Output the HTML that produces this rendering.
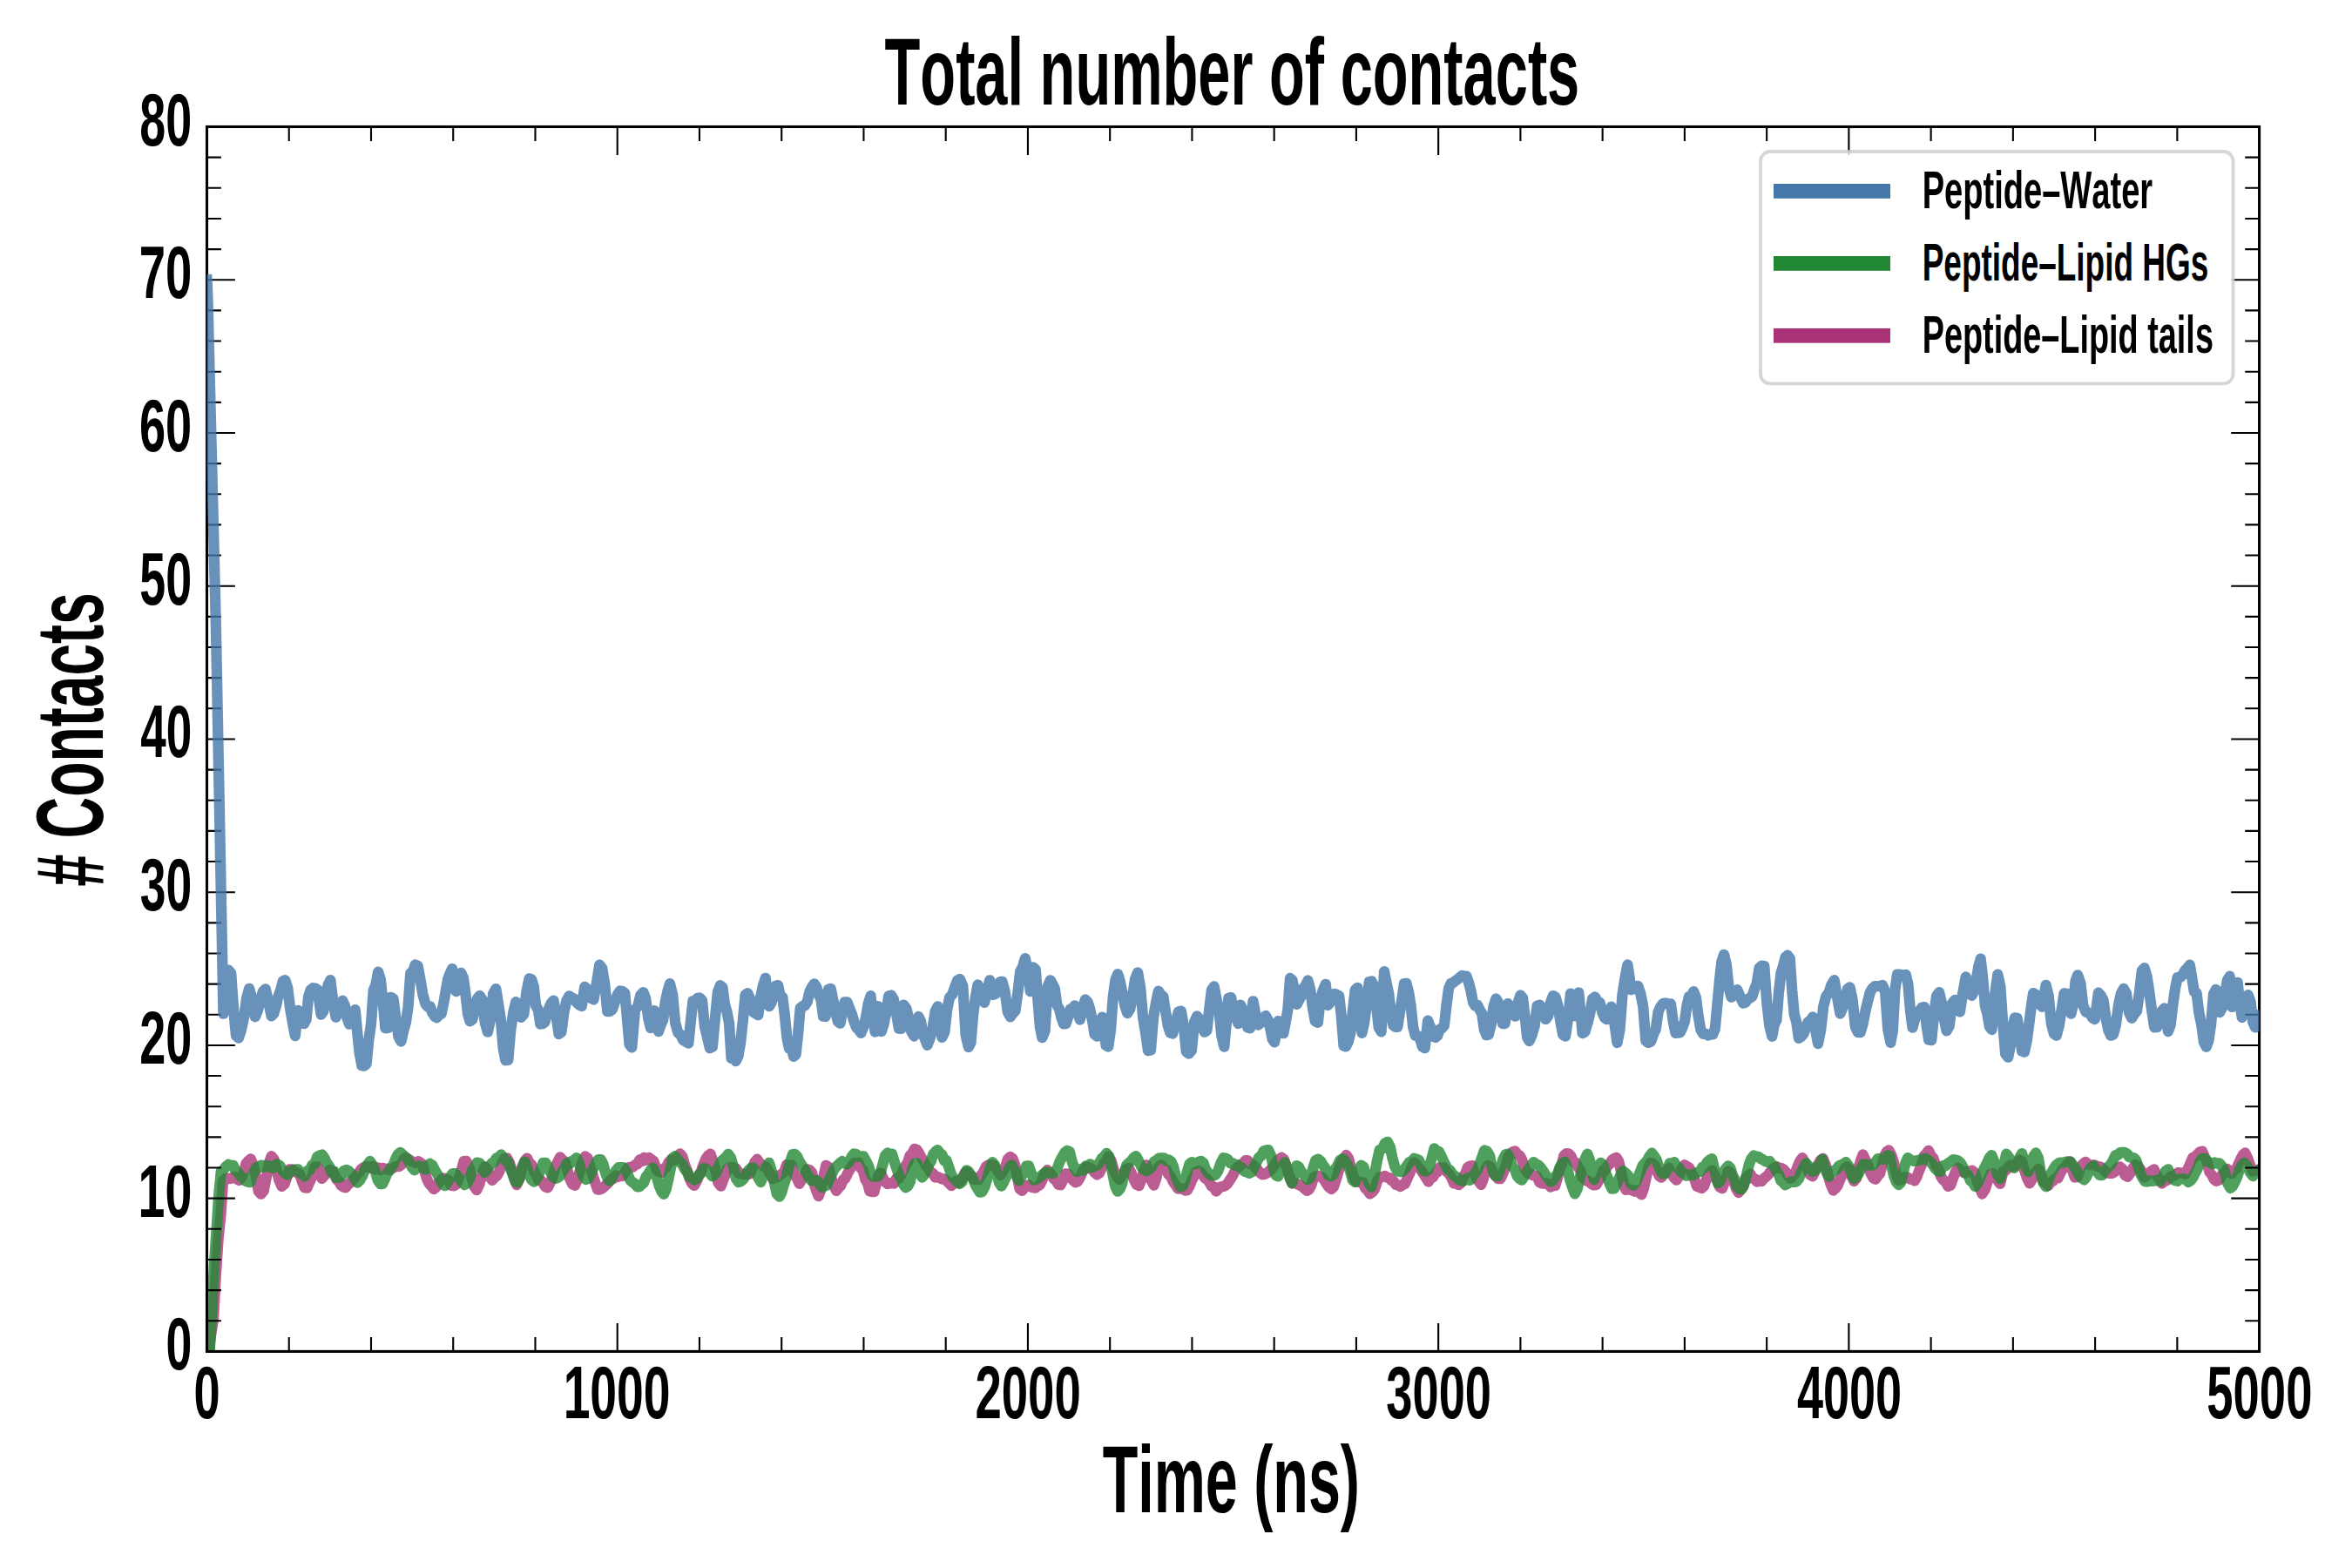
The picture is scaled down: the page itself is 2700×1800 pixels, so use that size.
<!DOCTYPE html><html><head><meta charset="utf-8"><style>html,body{margin:0;padding:0;background:#fff;overflow:hidden}svg{display:block}</style></head><body>
<svg width="2700" height="1800" viewBox="0 0 2700 1800" font-family="Liberation Sans, sans-serif" font-weight="bold" style="font-kerning:none">
<rect width="2700" height="1800" fill="#fff"/>
<defs><clipPath id="ax"><rect x="237.5" y="145.5" width="2356.1" height="1405.9"/></clipPath></defs>
<g clip-path="url(#ax)" fill="none" stroke-width="12.3" stroke-linejoin="round" stroke-linecap="square">
<path d="M239.5 1552.4L242.3 1531.6L245.1 1513.7L247.8 1463.8L250.6 1422.4L253.4 1395.2L256.1 1355.2L258.9 1352.9L261.5 1353.0L264.0 1353.1L266.6 1352.0L269.1 1351.0L271.7 1353.3L274.2 1354.9L276.9 1352.4L279.7 1346.2L282.4 1335.9L285.1 1332.8L287.8 1330.5L290.8 1337.5L293.8 1350.2L296.8 1367.6L299.7 1370.7L302.7 1367.0L305.7 1351.9L308.7 1335.5L311.6 1327.2L314.6 1331.1L317.6 1343.8L320.6 1355.5L323.5 1361.9L326.5 1359.4L329.5 1350.9L332.5 1342.4L335.4 1342.5L338.3 1345.3L341.1 1346.3L343.9 1347.6L346.8 1356.1L349.6 1363.4L352.4 1363.6L355.4 1357.0L358.4 1350.3L361.4 1339.7L364.4 1339.3L366.9 1344.9L369.5 1352.9L372.4 1349.5L375.4 1346.2L378.4 1343.0L381.4 1343.7L383.9 1348.9L386.5 1354.1L389.0 1356.0L391.6 1360.8L394.1 1362.6L396.7 1363.3L399.2 1360.2L401.8 1357.7L404.3 1355.2L406.9 1352.3L409.4 1349.0L412.0 1346.2L414.5 1342.4L417.1 1340.4L419.9 1339.2L422.7 1339.6L425.6 1340.8L428.4 1339.0L431.2 1342.1L434.1 1340.5L436.7 1342.9L439.4 1340.9L442.0 1341.8L444.7 1341.9L447.3 1343.1L450.0 1341.4L452.6 1340.0L455.2 1339.0L457.9 1339.1L460.4 1337.4L463.0 1331.5L465.5 1328.9L468.4 1330.5L471.3 1332.4L474.2 1333.8L477.1 1334.9L480.0 1333.2L482.6 1334.7L485.1 1336.8L487.7 1345.8L490.2 1353.8L492.8 1358.9L495.3 1361.6L497.9 1365.0L500.6 1362.7L503.4 1357.7L506.1 1355.0L508.9 1352.5L511.9 1353.4L514.9 1354.7L517.8 1360.7L520.8 1361.3L523.7 1359.7L526.6 1352.9L529.5 1344.3L532.4 1333.2L535.3 1332.8L538.2 1339.0L541.2 1351.2L544.2 1361.9L547.2 1366.0L550.3 1359.6L553.4 1348.3L556.5 1339.2L559.4 1342.5L562.2 1350.8L565.0 1354.9L567.9 1351.8L570.7 1349.5L573.5 1344.1L576.4 1335.2L579.2 1329.9L582.0 1329.4L584.8 1334.6L587.6 1343.6L590.3 1352.4L593.1 1360.1L596.2 1353.7L599.3 1339.6L602.5 1332.6L605.1 1329.6L607.7 1335.2L610.4 1337.0L613.0 1345.0L615.6 1349.1L618.3 1355.1L620.9 1355.0L623.5 1358.2L626.2 1362.5L628.8 1363.4L631.6 1357.7L634.5 1351.2L637.3 1340.4L640.1 1333.8L643.0 1328.4L645.8 1331.7L648.6 1333.5L651.5 1343.7L654.3 1353.6L657.1 1359.4L660.0 1360.8L662.9 1354.0L665.9 1343.2L668.9 1332.7L671.9 1327.5L674.7 1329.7L677.5 1339.5L680.4 1348.7L683.2 1357.5L686.0 1365.5L688.9 1365.5L691.4 1364.1L694.0 1361.8L696.5 1359.6L699.1 1357.0L701.6 1353.7L704.2 1353.1L706.7 1349.5L709.3 1351.0L711.8 1349.8L714.8 1350.0L717.8 1345.1L720.8 1340.5L723.7 1339.8L726.4 1339.7L729.0 1337.3L731.7 1336.4L734.3 1331.4L737.0 1333.1L739.6 1328.8L742.3 1331.8L744.9 1329.0L747.6 1331.0L750.5 1333.0L753.5 1342.5L756.5 1345.0L759.5 1346.0L762.1 1341.5L764.8 1340.1L767.4 1334.6L770.1 1331.5L772.7 1332.1L775.4 1331.2L778.1 1327.6L780.7 1324.4L783.4 1327.6L786.1 1337.2L788.8 1343.6L791.5 1352.6L794.2 1358.5L796.9 1360.9L799.5 1356.4L802.2 1350.1L804.9 1344.4L807.6 1336.7L810.2 1330.7L812.9 1326.5L815.6 1324.7L818.6 1333.4L821.5 1344.0L824.5 1358.0L827.5 1361.7L830.0 1355.2L832.6 1348.9L835.1 1341.3L837.7 1340.2L840.2 1339.8L842.8 1340.8L845.3 1341.8L847.9 1346.8L850.4 1347.1L853.0 1347.9L855.5 1348.2L858.1 1348.2L860.9 1347.5L863.6 1340.9L866.4 1334.2L869.2 1330.7L871.7 1334.8L874.3 1336.8L876.8 1339.1L879.4 1339.3L881.9 1344.0L884.5 1348.1L887.0 1353.3L889.6 1351.2L892.1 1351.4L894.8 1349.2L897.6 1347.5L900.3 1345.3L903.0 1337.1L905.7 1338.3L908.7 1337.4L911.7 1348.0L914.6 1352.2L917.6 1358.8L920.6 1353.8L923.6 1350.0L926.5 1342.2L929.5 1343.3L932.1 1346.0L934.6 1359.1L937.2 1367.1L939.7 1373.2L942.6 1364.9L945.4 1350.6L948.2 1337.8L951.2 1339.9L954.2 1352.1L957.2 1360.8L960.1 1366.9L962.7 1363.7L965.2 1360.9L967.8 1354.5L970.3 1352.9L972.9 1347.3L975.4 1342.9L978.0 1338.5L980.5 1335.3L983.1 1335.9L985.6 1335.0L988.2 1341.2L990.7 1343.2L993.3 1353.7L995.9 1358.0L998.4 1367.3L1001.0 1368.0L1003.5 1368.0L1006.1 1357.9L1008.6 1349.4L1011.2 1346.4L1013.7 1352.5L1016.3 1357.0L1018.8 1359.0L1023.6 1357.8L1026.2 1358.5L1028.9 1353.1L1031.5 1352.9L1034.1 1349.5L1036.7 1343.3L1039.4 1338.7L1042.0 1334.4L1044.6 1326.4L1047.3 1323.9L1049.9 1319.0L1052.5 1319.8L1055.2 1324.2L1057.8 1329.0L1060.5 1333.4L1063.1 1338.7L1065.7 1341.0L1068.4 1345.7L1071.0 1347.0L1073.7 1351.5L1076.3 1350.9L1079.0 1352.3L1081.6 1353.7L1084.3 1353.3L1086.9 1355.7L1089.6 1358.3L1092.2 1361.2L1094.8 1358.6L1097.5 1355.8L1100.1 1357.8L1102.7 1356.1L1105.2 1351.1L1107.8 1346.2L1110.3 1345.3L1112.9 1349.3L1115.4 1349.7L1118.0 1354.0L1120.5 1353.7L1123.4 1354.3L1126.2 1349.1L1129.0 1345.3L1131.9 1339.1L1134.7 1337.3L1137.5 1337.4L1140.3 1337.5L1143.1 1340.5L1145.8 1344.9L1148.6 1349.1L1151.4 1344.3L1154.1 1339.5L1156.9 1330.6L1159.7 1328.1L1162.4 1329.9L1165.1 1337.0L1167.8 1350.8L1170.5 1364.6L1173.3 1366.8L1175.8 1363.7L1178.4 1360.9L1180.9 1360.3L1183.5 1362.6L1186.0 1363.2L1188.6 1363.7L1191.1 1361.5L1193.7 1360.2L1196.5 1354.7L1199.3 1347.0L1202.2 1343.2L1204.7 1345.6L1207.3 1348.5L1209.8 1353.4L1212.4 1355.3L1214.9 1359.8L1217.5 1360.3L1220.5 1354.2L1223.4 1347.4L1226.2 1347.7L1229.0 1351.5L1231.7 1354.6L1234.5 1357.3L1237.2 1356.2L1239.9 1351.6L1242.7 1344.9L1245.4 1341.0L1248.1 1339.5L1250.9 1340.6L1253.8 1342.3L1256.6 1346.1L1259.3 1348.4L1262.0 1346.6L1264.7 1340.7L1267.4 1335.1L1270.1 1332.5L1272.8 1327.4L1275.7 1332.9L1278.7 1343.5L1281.7 1350.0L1284.7 1354.2L1287.4 1349.9L1290.2 1345.7L1293.0 1342.1L1295.7 1341.1L1298.7 1346.5L1301.7 1354.0L1304.6 1359.9L1307.6 1361.2L1310.5 1353.6L1313.3 1343.8L1316.1 1337.3L1319.0 1344.1L1321.8 1355.3L1324.6 1360.5L1327.5 1352.0L1330.3 1339.6L1333.1 1337.3L1335.9 1341.2L1338.6 1342.5L1341.3 1348.1L1344.0 1350.5L1346.7 1356.5L1349.5 1360.3L1352.2 1364.6L1354.9 1364.6L1357.6 1364.3L1360.3 1366.5L1362.9 1366.4L1365.4 1361.8L1368.0 1355.5L1370.5 1350.5L1373.1 1345.0L1375.6 1344.2L1378.2 1345.4L1380.7 1348.6L1383.3 1352.5L1385.9 1353.6L1388.4 1357.4L1391.0 1361.9L1393.5 1362.3L1396.1 1367.5L1398.9 1364.5L1401.7 1362.3L1404.3 1362.0L1406.8 1360.9L1409.4 1358.3L1411.9 1354.5L1414.5 1350.6L1417.0 1345.7L1419.6 1340.5L1422.1 1339.7L1424.7 1336.8L1427.2 1335.4L1429.8 1332.1L1432.3 1332.2L1435.1 1336.2L1438.0 1336.9L1440.8 1340.1L1443.6 1342.5L1446.5 1346.5L1449.3 1348.4L1452.1 1347.7L1454.8 1346.3L1457.5 1344.0L1460.3 1341.3L1463.0 1337.5L1465.8 1332.8L1468.5 1330.6L1471.2 1328.8L1474.0 1330.9L1477.1 1340.0L1480.2 1350.3L1483.3 1358.5L1486.2 1357.6L1489.0 1359.3L1491.8 1360.2L1494.7 1362.0L1497.5 1364.5L1500.3 1366.8L1502.9 1365.3L1505.4 1360.4L1508.0 1352.0L1510.5 1350.3L1513.1 1349.6L1515.6 1350.5L1518.2 1352.1L1520.7 1355.4L1523.3 1359.7L1525.8 1363.2L1528.4 1364.9L1531.0 1362.3L1533.8 1354.0L1536.7 1344.4L1539.6 1333.7L1542.5 1331.2L1545.4 1326.0L1548.2 1330.0L1550.9 1340.3L1553.7 1350.7L1556.5 1356.2L1559.1 1356.8L1561.8 1357.5L1564.5 1357.5L1567.2 1364.0L1569.8 1366.4L1572.5 1370.4L1575.2 1368.8L1578.1 1365.0L1581.1 1355.6L1584.1 1351.1L1587.1 1350.9L1589.6 1349.9L1592.2 1351.7L1594.7 1351.9L1597.3 1355.1L1599.8 1355.8L1602.4 1360.0L1604.9 1360.4L1607.5 1362.0L1610.2 1360.1L1612.8 1359.1L1615.5 1352.8L1618.2 1347.2L1620.8 1339.6L1623.5 1334.5L1626.2 1337.0L1628.9 1340.8L1631.6 1343.6L1634.4 1348.0L1637.1 1352.4L1639.8 1356.5L1642.3 1352.6L1644.9 1351.4L1647.4 1347.1L1650.0 1345.5L1652.6 1340.2L1655.1 1341.2L1657.9 1340.5L1660.7 1344.9L1663.5 1347.7L1666.3 1352.0L1669.1 1358.5L1671.9 1358.8L1674.7 1360.0L1677.2 1357.9L1679.8 1351.2L1682.3 1347.0L1684.9 1340.0L1687.4 1338.7L1690.0 1338.3L1692.5 1346.5L1695.1 1353.1L1697.6 1356.4L1700.2 1360.0L1702.7 1353.8L1705.3 1342.0L1707.8 1338.0L1710.8 1339.4L1713.8 1346.3L1716.8 1349.8L1719.7 1353.0L1722.6 1353.0L1725.4 1346.7L1728.2 1339.8L1731.1 1328.7L1733.9 1324.3L1736.7 1322.2L1739.3 1321.5L1741.8 1325.1L1744.4 1326.4L1746.9 1330.7L1749.5 1338.3L1752.0 1344.4L1754.6 1347.3L1757.1 1347.3L1759.7 1349.2L1762.2 1349.7L1764.8 1351.1L1767.3 1357.2L1769.9 1358.4L1772.4 1358.8L1775.0 1358.3L1777.6 1359.1L1780.1 1362.5L1782.7 1361.3L1785.2 1361.0L1787.8 1352.9L1790.3 1342.3L1792.9 1336.1L1795.4 1326.6L1798.0 1324.1L1800.6 1324.3L1803.3 1326.9L1806.0 1333.4L1808.6 1334.3L1811.3 1339.5L1814.0 1343.1L1816.6 1351.7L1819.3 1353.8L1822.0 1355.8L1824.6 1356.8L1827.3 1359.4L1830.0 1360.4L1832.5 1360.1L1835.1 1355.3L1837.6 1351.9L1840.2 1343.9L1842.7 1343.6L1845.3 1338.3L1847.8 1336.5L1850.4 1331.9L1852.9 1330.0L1855.5 1328.8L1858.2 1333.1L1861.0 1345.0L1863.8 1359.9L1866.5 1365.9L1869.1 1364.6L1871.6 1365.5L1874.2 1366.6L1876.7 1367.8L1879.3 1366.5L1881.8 1368.9L1884.4 1371.3L1886.9 1364.4L1889.5 1352.6L1892.0 1341.3L1894.6 1334.9L1897.1 1335.5L1899.7 1337.9L1902.2 1344.6L1904.8 1350.1L1907.3 1351.7L1910.2 1347.7L1913.0 1344.2L1915.8 1340.9L1918.7 1347.0L1921.5 1351.5L1924.4 1354.7L1927.5 1350.1L1930.6 1341.9L1933.7 1337.2L1936.5 1338.9L1939.3 1340.7L1942.1 1347.6L1944.9 1352.0L1947.7 1361.6L1950.5 1362.6L1953.3 1364.0L1956.2 1361.5L1959.2 1353.0L1962.2 1347.4L1965.2 1343.8L1968.1 1348.9L1971.1 1355.5L1974.1 1362.7L1977.1 1364.1L1980.5 1355.2L1983.9 1344.4L1986.9 1346.8L1989.8 1355.3L1992.8 1364.1L1995.8 1369.1L1998.5 1365.6L2001.2 1362.2L2003.9 1352.8L2006.7 1349.8L2009.4 1347.6L2011.9 1352.8L2014.5 1353.1L2017.0 1356.6L2019.6 1355.2L2022.1 1356.1L2024.7 1352.9L2027.2 1351.1L2029.8 1348.6L2032.3 1345.3L2034.9 1342.8L2037.4 1340.1L2040.0 1339.4L2042.5 1340.8L2045.1 1341.2L2047.7 1342.7L2050.2 1345.6L2052.8 1350.1L2055.3 1352.8L2058.0 1350.1L2060.7 1347.1L2063.5 1339.4L2066.2 1333.0L2068.9 1329.2L2071.9 1334.3L2074.9 1342.4L2077.8 1348.5L2080.8 1350.3L2083.8 1344.2L2086.8 1337.2L2089.7 1332.1L2092.7 1329.8L2095.7 1337.0L2098.7 1349.5L2101.6 1359.6L2104.6 1366.5L2107.2 1364.2L2109.7 1360.7L2112.3 1354.1L2114.8 1348.4L2117.4 1342.0L2119.9 1339.5L2122.8 1341.9L2125.6 1350.3L2128.4 1355.9L2131.0 1352.8L2133.5 1340.6L2136.1 1332.1L2138.6 1325.4L2141.6 1332.1L2144.6 1338.1L2147.6 1347.3L2150.5 1352.4L2153.1 1353.6L2155.6 1349.8L2158.2 1346.9L2160.7 1336.3L2163.3 1326.7L2165.8 1322.2L2168.4 1320.5L2171.2 1325.9L2173.9 1333.9L2176.7 1347.3L2179.5 1355.0L2182.1 1354.5L2184.7 1351.8L2187.3 1351.1L2190.0 1351.6L2192.6 1353.5L2195.2 1353.6L2197.9 1355.5L2200.5 1351.0L2203.2 1343.5L2205.9 1336.9L2208.6 1327.1L2211.2 1324.4L2213.9 1320.8L2216.7 1326.7L2219.5 1329.7L2222.3 1338.1L2225.1 1341.9L2227.9 1350.3L2230.7 1354.5L2233.5 1356.8L2236.3 1361.9L2239.2 1360.6L2242.1 1352.2L2245.0 1345.0L2247.9 1340.6L2250.5 1343.1L2253.2 1345.5L2255.9 1346.6L2258.6 1344.6L2261.3 1345.1L2263.9 1343.7L2266.8 1346.0L2269.7 1356.0L2272.6 1363.2L2275.5 1370.5L2278.8 1365.4L2282.1 1354.8L2285.4 1347.5L2288.0 1347.2L2290.7 1351.8L2293.4 1355.4L2296.1 1358.9L2299.6 1344.5L2302.3 1343.8L2305.0 1340.3L2307.7 1337.8L2310.4 1339.1L2313.0 1338.3L2315.7 1334.6L2318.4 1331.9L2321.3 1333.5L2324.2 1344.1L2327.1 1352.7L2330.0 1358.3L2333.3 1353.0L2336.5 1346.4L2339.8 1341.7L2342.7 1347.2L2345.6 1356.3L2348.5 1357.9L2351.4 1361.0L2354.2 1357.1L2357.0 1355.5L2359.8 1352.5L2362.5 1352.3L2365.3 1346.3L2368.1 1341.8L2370.9 1339.8L2373.7 1335.8L2376.4 1333.4L2379.1 1343.7L2381.8 1351.5L2384.9 1351.2L2388.0 1341.4L2391.2 1336.0L2394.3 1333.9L2396.8 1336.8L2399.3 1337.2L2401.9 1337.3L2404.4 1337.3L2406.9 1338.7L2409.5 1339.4L2412.0 1339.8L2414.5 1342.0L2417.1 1345.1L2419.6 1346.7L2422.1 1346.9L2424.6 1346.8L2427.6 1345.1L2430.6 1340.9L2433.6 1339.5L2436.5 1341.8L2439.5 1349.2L2442.5 1350.9L2445.5 1346.5L2448.5 1340.9L2451.4 1337.1L2453.9 1338.1L2456.4 1341.4L2458.9 1345.7L2461.4 1351.3L2463.9 1350.0L2466.9 1346.6L2469.9 1344.1L2472.9 1342.5L2475.8 1349.7L2478.8 1353.8L2481.8 1358.5L2484.5 1356.1L2487.1 1355.2L2489.8 1352.8L2492.5 1350.2L2495.2 1349.9L2497.9 1348.2L2500.5 1346.1L2503.2 1346.3L2505.9 1346.8L2508.6 1347.5L2511.4 1342.3L2514.2 1336.1L2517.1 1329.1L2519.9 1327.8L2522.7 1324.9L2525.5 1322.3L2528.2 1321.8L2530.9 1328.2L2533.6 1333.5L2536.3 1345.2L2538.9 1348.5L2541.6 1353.8L2544.3 1355.8L2547.4 1354.6L2550.5 1349.0L2553.7 1345.9L2556.8 1342.0L2559.5 1344.5L2562.1 1347.3L2564.7 1343.2L2567.2 1341.7L2569.7 1336.2L2572.3 1330.7L2574.8 1325.7L2577.3 1323.5L2580.2 1329.4L2583.1 1337.8L2586.0 1344.5L2588.9 1343.8L2592.5 1343.0L2596.1 1341.8" stroke="#aa3377" stroke-opacity="0.8"/>
<path d="M238.2 1552.4L240.8 1549.0L243.4 1500.8L246.0 1450.8L248.6 1410.6L251.2 1371.6L253.8 1344.4L256.6 1342.9L259.5 1339.0L262.3 1336.8L265.1 1338.0L267.8 1337.9L270.5 1344.2L273.3 1345.8L276.0 1350.6L278.8 1351.5L281.5 1355.4L284.2 1356.7L287.0 1357.1L289.5 1350.2L292.1 1344.6L294.6 1340.0L297.3 1340.3L299.9 1337.6L302.6 1339.6L305.2 1337.7L307.9 1339.4L310.5 1339.0L313.1 1340.9L315.8 1337.9L318.4 1336.4L321.4 1338.3L324.4 1343.6L327.4 1347.0L330.3 1348.5L333.7 1344.7L337.1 1343.0L339.7 1342.5L342.2 1342.5L344.8 1346.9L347.3 1348.1L350.1 1350.3L352.9 1344.0L355.7 1343.0L358.5 1337.3L361.3 1336.2L364.1 1328.0L366.9 1326.6L369.7 1325.6L372.4 1329.4L375.2 1335.3L378.0 1338.9L380.7 1345.7L383.5 1344.6L386.2 1351.9L389.0 1351.6L391.8 1350.5L394.7 1344.0L397.5 1343.0L400.1 1344.1L402.6 1346.7L405.2 1348.9L407.7 1354.3L410.3 1357.7L413.2 1354.8L416.1 1349.9L418.9 1342.7L421.8 1337.1L424.7 1333.0L427.7 1337.3L430.7 1344.4L433.7 1354.7L436.6 1359.0L439.2 1359.0L441.7 1353.6L444.3 1347.1L446.8 1344.1L449.4 1339.7L451.9 1336.6L454.5 1329.6L457.0 1324.9L459.6 1323.0L462.1 1325.3L464.9 1327.8L467.6 1330.1L470.3 1334.9L473.0 1340.1L475.7 1343.3L478.3 1341.1L480.9 1338.5L483.4 1339.4L486.0 1340.2L488.5 1342.5L491.1 1338.2L493.6 1335.8L496.4 1337.6L499.3 1343.6L502.1 1348.1L504.9 1352.9L507.8 1358.8L510.6 1361.2L513.6 1357.5L516.6 1351.4L519.5 1347.1L522.5 1347.1L525.2 1350.3L528.0 1353.4L530.7 1357.1L533.4 1360.1L536.1 1358.4L539.0 1353.6L541.9 1343.5L544.8 1340.1L547.7 1334.6L550.6 1335.2L553.6 1340.8L556.5 1346.0L559.2 1342.8L561.9 1338.8L564.5 1335.4L567.2 1334.1L569.9 1329.3L572.6 1328.9L575.2 1325.5L577.9 1329.4L580.6 1332.3L583.3 1333.5L585.9 1341.7L588.6 1348.2L591.3 1356.0L593.9 1357.5L596.8 1352.0L599.6 1340.7L602.5 1333.7L605.0 1340.6L607.6 1348.4L610.1 1354.2L612.7 1356.6L615.4 1354.2L618.1 1349.4L620.8 1342.2L623.5 1334.8L626.3 1334.8L629.3 1340.0L632.3 1346.8L635.3 1351.2L637.9 1352.9L640.6 1351.8L643.2 1349.7L645.8 1344.6L648.5 1340.4L651.1 1335.0L653.8 1336.5L656.4 1332.9L659.0 1331.8L661.7 1329.1L664.4 1334.0L667.2 1344.0L670.0 1351.5L672.7 1354.0L675.6 1352.6L678.4 1347.1L681.2 1341.4L684.1 1335.0L686.9 1331.2L689.7 1331.1L692.3 1335.9L694.8 1345.8L697.4 1352.6L699.9 1355.6L702.5 1352.1L705.0 1347.2L707.6 1343.2L710.1 1340.2L712.7 1340.2L715.4 1340.2L718.0 1342.8L720.7 1348.1L723.4 1354.8L726.1 1357.1L728.7 1358.9L731.4 1362.3L733.9 1362.4L736.5 1359.8L739.0 1357.7L741.6 1350.9L744.1 1347.8L746.7 1343.4L749.2 1340.8L751.8 1345.6L754.4 1352.9L756.9 1361.8L759.5 1367.8L762.0 1370.8L764.6 1365.3L767.1 1354.7L769.7 1342.3L772.2 1329.2L774.8 1327.4L777.5 1330.3L780.3 1334.1L783.1 1336.3L785.8 1341.8L788.6 1345.3L791.3 1350.8L794.1 1352.0L796.9 1354.4L799.6 1353.2L802.3 1348.4L805.0 1346.6L807.8 1341.3L810.5 1341.8L813.9 1345.1L817.3 1350.2L820.0 1348.8L822.6 1345.5L825.3 1337.9L828.0 1333.1L830.6 1330.7L833.3 1328.6L836.0 1324.9L839.0 1329.1L841.9 1339.1L844.9 1352.9L847.9 1357.1L850.7 1356.0L853.6 1353.3L856.4 1348.1L859.2 1343.6L862.1 1340.9L864.9 1340.6L867.7 1345.2L870.6 1352.5L873.4 1357.0L876.5 1348.4L879.6 1339.8L882.8 1334.8L885.7 1343.9L888.7 1356.6L891.7 1370.4L894.7 1373.7L897.2 1369.2L899.8 1359.8L902.3 1353.1L904.9 1341.8L907.4 1332.7L910.0 1325.2L912.5 1324.9L915.2 1327.8L917.9 1333.6L920.5 1337.5L923.2 1342.5L925.9 1345.8L928.6 1351.6L931.2 1355.1L933.8 1354.6L936.3 1354.8L938.9 1356.4L941.4 1360.5L944.0 1362.8L946.5 1361.7L949.1 1360.8L951.6 1354.9L954.2 1349.4L956.7 1343.7L959.3 1340.2L961.8 1337.4L964.4 1335.0L966.9 1333.2L969.6 1335.5L972.3 1336.2L975.0 1333.8L977.6 1327.9L980.3 1324.5L983.0 1325.1L985.6 1327.8L988.4 1327.7L991.2 1327.4L993.9 1332.2L996.7 1337.7L999.5 1346.5L1002.2 1350.5L1005.0 1350.3L1007.8 1350.6L1010.5 1347.1L1013.3 1336.8L1016.0 1326.6L1018.8 1323.5L1021.4 1325.3L1024.0 1324.7L1026.6 1333.2L1029.3 1341.6L1031.9 1349.1L1034.5 1352.6L1037.1 1359.8L1039.7 1363.3L1042.3 1361.5L1044.9 1356.5L1047.4 1341.8L1050.0 1335.8L1052.5 1335.3L1055.5 1345.9L1058.5 1351.5L1061.0 1348.5L1063.6 1343.4L1066.1 1337.0L1068.7 1333.2L1071.2 1325.0L1073.8 1322.1L1076.3 1320.1L1078.9 1323.6L1081.4 1325.4L1084.0 1332.4L1086.5 1332.2L1089.1 1339.3L1091.6 1347.2L1094.2 1352.1L1096.7 1353.8L1099.3 1357.2L1101.8 1359.0L1104.4 1356.7L1106.9 1349.4L1109.5 1343.4L1112.0 1344.8L1114.6 1349.2L1117.1 1353.6L1119.7 1360.1L1122.2 1364.5L1124.8 1368.6L1127.3 1368.3L1130.3 1362.7L1133.3 1353.1L1136.3 1342.1L1139.3 1334.2L1141.8 1337.2L1144.4 1346.9L1146.9 1357.5L1149.5 1361.6L1152.4 1356.6L1155.4 1349.9L1158.4 1341.2L1161.4 1337.3L1164.2 1343.1L1167.0 1350.6L1169.9 1355.2L1172.6 1350.7L1175.4 1345.8L1178.2 1338.6L1180.9 1338.5L1183.9 1346.6L1186.9 1354.7L1189.7 1353.6L1192.5 1351.9L1195.4 1349.8L1198.2 1347.2L1201.0 1345.4L1203.9 1346.3L1207.3 1347.0L1210.7 1345.7L1213.6 1341.5L1216.5 1333.5L1219.4 1328.2L1222.2 1323.2L1225.1 1321.0L1227.9 1322.0L1230.7 1333.6L1233.4 1341.1L1236.2 1344.9L1238.7 1344.0L1241.3 1341.8L1243.8 1343.4L1246.4 1338.4L1248.9 1340.6L1251.5 1336.3L1254.2 1339.9L1256.8 1338.5L1259.5 1337.5L1262.2 1334.7L1264.9 1329.6L1267.5 1327.4L1270.2 1323.9L1272.8 1327.3L1275.3 1337.1L1277.9 1350.5L1280.4 1362.1L1283.0 1367.7L1285.5 1365.1L1288.1 1358.9L1290.6 1346.5L1293.2 1337.6L1295.7 1335.2L1298.5 1332.9L1301.4 1329.1L1304.2 1327.2L1307.2 1332.7L1310.2 1339.5L1313.1 1342.8L1316.1 1344.0L1319.1 1342.4L1322.1 1339.6L1325.0 1333.2L1328.0 1331.8L1330.7 1329.3L1333.5 1329.3L1336.2 1329.4L1338.9 1332.5L1341.6 1331.5L1344.4 1333.3L1347.1 1339.5L1349.8 1350.7L1352.5 1357.6L1355.2 1362.4L1357.8 1361.5L1360.3 1355.4L1362.9 1345.0L1365.4 1336.4L1368.0 1334.1L1370.5 1335.0L1373.3 1336.3L1376.0 1333.8L1378.8 1332.9L1381.5 1334.9L1384.2 1342.7L1387.0 1346.5L1389.7 1349.3L1392.5 1349.4L1395.2 1348.7L1398.3 1344.2L1401.4 1335.2L1404.6 1329.2L1407.2 1329.7L1409.8 1331.3L1412.5 1335.4L1415.1 1335.2L1417.8 1337.6L1420.4 1337.1L1423.1 1339.7L1425.8 1340.8L1428.6 1344.7L1431.3 1345.5L1434.0 1346.8L1436.8 1345.6L1439.5 1339.9L1442.3 1334.7L1445.1 1328.7L1447.8 1327.0L1450.6 1321.5L1453.4 1320.3L1456.1 1320.2L1459.0 1326.6L1461.8 1340.3L1464.6 1349.2L1467.2 1350.4L1469.7 1343.9L1472.3 1339.3L1474.8 1334.4L1477.7 1341.0L1480.5 1352.1L1483.3 1358.1L1485.9 1347.7L1488.4 1338.1L1491.0 1339.4L1493.5 1344.4L1496.1 1347.7L1498.6 1351.4L1501.2 1354.1L1504.2 1352.3L1507.1 1341.8L1510.1 1332.3L1513.1 1330.7L1516.0 1332.9L1518.9 1337.5L1521.8 1341.6L1524.7 1349.1L1527.5 1350.2L1530.3 1349.1L1533.0 1341.9L1535.7 1337.2L1538.4 1331.8L1541.2 1330.2L1544.0 1332.7L1546.9 1337.0L1549.8 1343.9L1552.7 1354.7L1555.6 1357.1L1559.0 1347.4L1562.4 1337.7L1565.4 1339.7L1568.4 1350.2L1571.3 1358.2L1574.3 1362.7L1577.4 1351.3L1580.6 1333.8L1583.7 1320.0L1586.8 1319.0L1589.9 1312.3L1593.0 1310.9L1595.8 1316.6L1598.6 1329.9L1601.3 1339.3L1604.1 1344.5L1606.8 1345.0L1609.6 1345.0L1612.4 1342.2L1615.1 1338.1L1617.9 1334.2L1620.7 1332.8L1623.4 1329.8L1626.2 1330.7L1628.9 1331.9L1631.6 1338.6L1634.4 1344.1L1637.1 1344.4L1639.8 1342.8L1643.2 1330.9L1646.6 1318.4L1649.1 1322.7L1651.7 1321.7L1654.3 1326.6L1656.8 1332.3L1659.4 1337.5L1661.9 1342.4L1664.5 1343.3L1667.0 1347.2L1669.6 1349.8L1672.1 1351.1L1674.7 1354.4L1677.2 1355.2L1679.8 1355.7L1682.3 1354.3L1684.9 1352.3L1687.4 1354.9L1690.2 1351.4L1693.0 1347.2L1695.8 1342.8L1698.6 1336.5L1701.4 1327.9L1704.2 1320.5L1707.0 1321.5L1710.1 1326.8L1713.2 1342.1L1716.3 1349.4L1719.3 1350.2L1722.3 1342.6L1725.3 1331.2L1728.2 1325.4L1730.9 1324.9L1733.6 1330.9L1736.3 1339.7L1738.9 1342.0L1741.6 1350.1L1744.3 1352.9L1746.9 1354.7L1749.7 1350.6L1752.4 1345.5L1755.1 1341.5L1757.8 1337.7L1760.5 1334.1L1763.3 1336.4L1766.1 1337.6L1768.8 1340.5L1771.6 1344.4L1774.4 1349.2L1777.1 1351.9L1779.9 1356.4L1782.7 1354.8L1785.4 1350.9L1788.1 1347.0L1790.8 1339.4L1793.5 1335.5L1796.3 1333.8L1799.2 1341.5L1802.1 1353.8L1805.0 1362.9L1807.9 1370.4L1810.7 1364.7L1813.6 1351.9L1816.5 1341.9L1819.4 1330.9L1822.3 1324.7L1824.9 1331.5L1827.4 1346.5L1830.0 1354.1L1832.5 1347.8L1835.1 1337.9L1837.6 1334.9L1840.2 1336.8L1842.7 1345.1L1845.3 1351.3L1847.8 1359.2L1850.4 1364.7L1852.9 1364.4L1855.5 1359.8L1858.0 1353.8L1860.6 1348.3L1863.1 1344.2L1866.1 1346.4L1869.1 1349.7L1872.1 1358.8L1875.0 1360.6L1877.7 1357.6L1880.3 1351.6L1883.0 1344.8L1885.7 1338.2L1888.3 1335.0L1891.0 1332.2L1893.6 1327.2L1896.3 1323.7L1898.8 1327.0L1901.4 1330.7L1903.9 1338.6L1906.5 1344.3L1909.0 1347.5L1911.6 1347.0L1914.2 1341.8L1916.7 1335.4L1919.4 1335.5L1922.0 1334.1L1924.7 1340.3L1927.3 1340.4L1930.0 1345.7L1932.6 1346.3L1935.3 1349.5L1938.0 1349.3L1940.7 1348.6L1943.4 1349.2L1946.1 1347.5L1948.8 1345.5L1951.6 1345.0L1954.3 1340.0L1957.0 1340.1L1959.7 1334.1L1962.5 1331.7L1965.2 1330.1L1968.6 1343.9L1972.0 1358.2L1974.9 1355.7L1977.9 1346.4L1980.9 1341.8L1983.9 1338.4L1986.4 1340.9L1989.0 1349.3L1991.5 1354.0L1994.1 1362.3L1996.6 1364.8L1999.4 1365.0L2002.2 1359.4L2005.0 1348.7L2007.8 1336.8L2010.6 1329.9L2013.4 1326.5L2016.2 1327.8L2018.7 1327.8L2021.3 1330.2L2023.8 1331.1L2026.4 1333.1L2028.9 1333.9L2031.5 1333.0L2034.0 1336.9L2036.6 1338.2L2039.1 1344.1L2041.7 1347.6L2044.3 1355.3L2046.8 1357.4L2049.4 1360.2L2051.9 1358.8L2054.5 1357.3L2057.0 1356.3L2059.6 1356.9L2062.1 1356.4L2064.9 1353.2L2067.6 1346.2L2070.4 1340.9L2073.2 1335.2L2075.7 1337.9L2078.3 1342.3L2080.8 1344.9L2083.6 1343.7L2086.3 1339.1L2089.1 1336.8L2091.9 1330.9L2094.4 1340.0L2097.0 1346.4L2099.5 1350.7L2102.3 1346.8L2105.1 1343.9L2107.9 1342.8L2110.7 1338.7L2113.5 1337.4L2116.3 1336.2L2119.1 1334.1L2122.2 1338.7L2125.3 1346.8L2128.4 1353.1L2131.2 1350.7L2133.9 1347.0L2136.6 1341.4L2139.3 1336.6L2142.0 1336.5L2144.8 1337.5L2147.5 1337.5L2150.3 1337.6L2153.0 1333.7L2155.7 1330.2L2158.5 1330.3L2161.2 1330.8L2164.0 1330.6L2166.7 1326.5L2169.3 1327.0L2171.8 1340.6L2174.4 1350.7L2176.9 1357.0L2179.5 1360.0L2182.1 1357.7L2184.7 1346.6L2187.4 1335.2L2190.0 1329.2L2192.6 1331.2L2195.1 1332.3L2197.7 1332.9L2200.2 1332.3L2202.8 1331.9L2205.4 1331.0L2207.9 1330.4L2210.5 1330.0L2213.0 1331.7L2215.9 1333.6L2218.8 1337.1L2221.7 1341.6L2224.6 1344.4L2227.6 1344.8L2230.6 1338.1L2233.6 1338.2L2236.4 1335.3L2239.3 1333.7L2242.1 1331.2L2245.0 1331.5L2247.9 1332.6L2250.7 1334.9L2253.5 1340.0L2256.3 1346.8L2259.1 1348.6L2261.9 1355.3L2264.7 1357.4L2267.5 1362.1L2270.2 1358.6L2272.9 1352.4L2275.5 1346.2L2278.2 1340.5L2280.9 1335.4L2283.6 1329.2L2286.3 1326.1L2289.5 1334.1L2292.8 1347.6L2296.1 1353.2L2299.6 1340.9L2303.2 1324.7L2306.2 1328.6L2309.2 1336.4L2312.1 1340.8L2315.1 1336.4L2318.1 1329.3L2321.1 1324.1L2324.6 1336.4L2328.2 1345.0L2331.2 1338.9L2334.2 1327.7L2337.1 1323.5L2340.0 1329.5L2342.9 1347.3L2345.8 1358.2L2348.7 1362.2L2351.7 1354.3L2354.6 1346.7L2357.5 1341.8L2360.4 1337.5L2363.2 1335.3L2366.1 1334.6L2368.9 1334.5L2371.8 1333.6L2374.6 1333.3L2377.2 1334.1L2379.7 1337.4L2382.3 1341.1L2384.8 1345.8L2387.4 1350.1L2390.0 1352.8L2392.5 1354.3L2395.2 1351.1L2397.9 1344.0L2400.5 1340.2L2403.2 1338.1L2406.8 1344.8L2410.4 1349.0L2413.0 1349.1L2415.6 1344.3L2418.1 1342.0L2420.7 1338.9L2423.3 1336.5L2425.9 1331.6L2428.5 1326.1L2431.1 1326.1L2433.7 1323.2L2436.3 1322.9L2438.9 1323.0L2441.6 1324.3L2444.3 1328.3L2447.0 1328.6L2449.6 1329.4L2452.1 1331.7L2454.6 1339.2L2457.1 1347.3L2459.6 1352.1L2462.1 1356.1L2464.7 1356.5L2467.2 1355.5L2469.8 1355.9L2472.3 1355.6L2474.9 1355.4L2477.4 1354.5L2480.0 1356.0L2483.0 1351.2L2486.0 1344.3L2488.9 1342.3L2491.6 1348.0L2494.3 1353.9L2497.0 1355.3L2499.6 1355.8L2502.1 1353.6L2504.6 1353.2L2507.1 1353.2L2509.6 1354.3L2512.1 1356.9L2514.8 1355.1L2517.5 1351.7L2520.2 1346.1L2522.9 1341.2L2525.5 1333.3L2528.2 1330.0L2531.0 1329.9L2533.8 1333.1L2536.6 1334.3L2539.4 1336.1L2542.2 1334.5L2545.1 1335.7L2547.9 1335.5L2551.0 1339.1L2554.1 1345.5L2557.2 1358.4L2560.4 1364.0L2563.0 1361.7L2565.7 1356.6L2568.4 1350.5L2571.1 1341.9L2573.7 1337.8L2576.4 1335.0L2579.7 1338.9L2583.0 1345.9L2586.2 1350.2L2589.5 1345.1L2592.8 1343.6L2596.1 1340.6" stroke="#228833" stroke-opacity="0.8"/>
</g>
<path d="M237.50 145.50v32.4M237.50 1551.40v-32.4M331.74 145.50v16.4M331.74 1551.40v-16.4M425.99 145.50v16.4M425.99 1551.40v-16.4M520.23 145.50v16.4M520.23 1551.40v-16.4M614.48 145.50v16.4M614.48 1551.40v-16.4M708.72 145.50v32.4M708.72 1551.40v-32.4M802.96 145.50v16.4M802.96 1551.40v-16.4M897.21 145.50v16.4M897.21 1551.40v-16.4M991.45 145.50v16.4M991.45 1551.40v-16.4M1085.70 145.50v16.4M1085.70 1551.40v-16.4M1179.94 145.50v32.4M1179.94 1551.40v-32.4M1274.18 145.50v16.4M1274.18 1551.40v-16.4M1368.43 145.50v16.4M1368.43 1551.40v-16.4M1462.67 145.50v16.4M1462.67 1551.40v-16.4M1556.92 145.50v16.4M1556.92 1551.40v-16.4M1651.16 145.50v32.4M1651.16 1551.40v-32.4M1745.40 145.50v16.4M1745.40 1551.40v-16.4M1839.65 145.50v16.4M1839.65 1551.40v-16.4M1933.89 145.50v16.4M1933.89 1551.40v-16.4M2028.14 145.50v16.4M2028.14 1551.40v-16.4M2122.38 145.50v32.4M2122.38 1551.40v-32.4M2216.62 145.50v16.4M2216.62 1551.40v-16.4M2310.87 145.50v16.4M2310.87 1551.40v-16.4M2405.11 145.50v16.4M2405.11 1551.40v-16.4M2499.36 145.50v16.4M2499.36 1551.40v-16.4M2593.60 145.50v32.4M2593.60 1551.40v-32.4M237.50 1551.40h32.4M2593.60 1551.40h-32.4M237.50 1516.25h16.4M2593.60 1516.25h-16.4M237.50 1481.11h16.4M2593.60 1481.11h-16.4M237.50 1445.96h16.4M2593.60 1445.96h-16.4M237.50 1410.81h16.4M2593.60 1410.81h-16.4M237.50 1375.66h32.4M2593.60 1375.66h-32.4M237.50 1340.52h16.4M2593.60 1340.52h-16.4M237.50 1305.37h16.4M2593.60 1305.37h-16.4M237.50 1270.22h16.4M2593.60 1270.22h-16.4M237.50 1235.07h16.4M2593.60 1235.07h-16.4M237.50 1199.93h32.4M2593.60 1199.93h-32.4M237.50 1164.78h16.4M2593.60 1164.78h-16.4M237.50 1129.63h16.4M2593.60 1129.63h-16.4M237.50 1094.48h16.4M2593.60 1094.48h-16.4M237.50 1059.34h16.4M2593.60 1059.34h-16.4M237.50 1024.19h32.4M2593.60 1024.19h-32.4M237.50 989.04h16.4M2593.60 989.04h-16.4M237.50 953.89h16.4M2593.60 953.89h-16.4M237.50 918.75h16.4M2593.60 918.75h-16.4M237.50 883.60h16.4M2593.60 883.60h-16.4M237.50 848.45h32.4M2593.60 848.45h-32.4M237.50 813.30h16.4M2593.60 813.30h-16.4M237.50 778.15h16.4M2593.60 778.15h-16.4M237.50 743.01h16.4M2593.60 743.01h-16.4M237.50 707.86h16.4M2593.60 707.86h-16.4M237.50 672.71h32.4M2593.60 672.71h-32.4M237.50 637.57h16.4M2593.60 637.57h-16.4M237.50 602.42h16.4M2593.60 602.42h-16.4M237.50 567.27h16.4M2593.60 567.27h-16.4M237.50 532.12h16.4M2593.60 532.12h-16.4M237.50 496.98h32.4M2593.60 496.98h-32.4M237.50 461.83h16.4M2593.60 461.83h-16.4M237.50 426.68h16.4M2593.60 426.68h-16.4M237.50 391.53h16.4M2593.60 391.53h-16.4M237.50 356.38h16.4M2593.60 356.38h-16.4M237.50 321.24h32.4M2593.60 321.24h-32.4M237.50 286.09h16.4M2593.60 286.09h-16.4M237.50 250.94h16.4M2593.60 250.94h-16.4M237.50 215.80h16.4M2593.60 215.80h-16.4M237.50 180.65h16.4M2593.60 180.65h-16.4M237.50 145.50h32.4M2593.60 145.50h-32.4" stroke="#000" stroke-width="2.1" fill="none"/>
<rect x="237.50" y="145.50" width="2356.10" height="1405.90" fill="none" stroke="#000" stroke-width="3.1"/>
<g clip-path="url(#ax)" fill="none" stroke-width="12.3" stroke-linejoin="round" stroke-linecap="square">
<path d="M237.5 321.2L238.4 340.6L247.9 720.2L256.4 1163.7L259.3 1142.7L262.3 1113.6L265.2 1117.2L268.1 1158.6L271.0 1188.9L273.9 1191.6L276.9 1182.4L280.0 1168.3L283.1 1145.9L286.1 1134.8L289.5 1147.4L292.9 1167.3L295.9 1160.2L298.9 1147.5L301.9 1138.1L304.8 1135.3L308.2 1150.2L311.6 1166.4L314.2 1163.6L316.8 1155.0L319.5 1143.4L322.1 1136.7L324.7 1126.4L327.3 1125.2L330.2 1133.8L333.1 1157.6L336.0 1174.2L338.8 1189.1L342.2 1159.9L345.6 1168.6L349.0 1175.2L351.6 1170.4L354.1 1143.7L356.7 1136.3L359.3 1134.2L361.8 1134.6L364.4 1135.9L368.6 1164.7L371.3 1160.7L374.0 1144.3L376.6 1130.6L379.3 1125.1L382.5 1150.6L385.6 1167.8L388.2 1161.9L390.7 1154.8L393.3 1148.7L395.8 1154.3L398.4 1168.4L400.9 1175.6L405.2 1162.3L407.7 1159.1L410.3 1186.3L412.8 1209.6L415.4 1223.3L417.9 1223.7L420.6 1221.3L423.3 1193.7L426.0 1175.1L428.7 1137.1L431.4 1130.3L434.1 1115.7L436.8 1124.0L439.6 1150.3L442.4 1180.4L445.1 1180.2L448.5 1144.8L451.5 1146.4L454.5 1170.0L457.5 1190.2L460.4 1195.6L463.1 1183.7L465.8 1174.1L468.5 1156.3L471.2 1117.3L473.9 1115.3L476.6 1107.5L479.6 1108.9L482.6 1125.2L485.5 1142.0L488.5 1152.7L491.1 1155.5L493.7 1155.3L496.4 1162.9L499.0 1166.7L501.6 1168.3L504.1 1164.8L506.6 1164.0L509.1 1152.5L511.6 1138.3L514.1 1124.0L516.6 1117.5L519.1 1112.1L523.4 1138.1L526.3 1128.5L529.3 1116.8L531.9 1122.7L534.4 1140.9L537.0 1164.0L539.5 1172.4L542.3 1170.3L545.1 1158.3L547.8 1146.5L550.6 1143.0L553.7 1147.7L556.8 1174.2L559.9 1184.7L563.1 1169.8L566.2 1140.5L569.3 1135.1L572.0 1152.0L574.8 1170.2L577.6 1202.8L580.3 1217.2L583.3 1216.8L586.3 1181.8L589.3 1161.9L592.2 1150.2L595.2 1158.2L598.2 1167.9L601.3 1164.2L604.4 1138.8L607.5 1123.4L610.1 1124.1L612.7 1132.3L615.2 1154.6L617.8 1159.3L620.3 1175.5L622.9 1175.2L625.4 1173.5L627.9 1164.3L630.5 1156.3L633.0 1151.4L635.5 1148.6L638.5 1166.2L641.5 1187.0L644.4 1185.0L647.4 1161.6L650.4 1148.6L653.4 1143.4L656.3 1145.3L659.1 1146.7L662.0 1150.9L664.9 1153.7L667.8 1155.0L671.2 1132.9L673.8 1135.1L676.3 1139.0L678.9 1146.1L681.4 1147.5L684.8 1129.2L688.2 1107.6L691.2 1111.5L694.2 1129.7L697.2 1161.0L700.1 1161.1L703.0 1158.7L705.9 1149.9L708.8 1142.1L711.7 1137.4L714.6 1138.0L717.3 1140.1L719.9 1169.0L722.6 1199.3L725.3 1202.4L729.0 1159.2L732.2 1155.3L735.3 1142.5L738.4 1139.1L741.2 1146.3L744.1 1168.5L746.9 1180.1L751.2 1160.2L755.9 1184.1L758.5 1176.7L761.2 1170.8L763.8 1149.7L766.4 1137.7L769.0 1129.2L772.1 1141.7L775.2 1174.3L778.4 1185.6L781.3 1187.8L784.3 1194.1L787.3 1195.7L790.3 1197.6L792.8 1173.3L795.4 1149.1L797.9 1149.0L800.5 1146.0L803.0 1145.4L806.0 1148.4L809.0 1178.9L812.0 1191.1L814.9 1203.2L817.9 1201.8L820.9 1169.1L823.9 1139.0L826.8 1131.2L829.4 1133.4L831.9 1152.2L834.5 1161.6L837.0 1174.7L839.6 1214.8L842.1 1208.6L844.7 1218.1L847.4 1212.6L850.1 1196.9L852.9 1170.8L855.6 1142.1L858.3 1140.2L861.4 1147.3L864.5 1161.8L867.7 1163.5L870.4 1165.2L873.2 1144.1L875.9 1131.9L878.7 1122.8L883.0 1155.2L885.5 1151.1L888.1 1141.1L890.6 1131.7L893.2 1131.1L895.7 1143.9L898.3 1144.8L900.8 1165.1L903.4 1191.1L905.9 1203.6L908.5 1200.6L911.0 1212.9L913.6 1210.3L916.1 1187.1L918.7 1157.2L921.2 1155.1L923.9 1154.5L926.7 1150.1L929.4 1138.4L932.1 1132.9L934.8 1129.3L937.4 1133.3L939.9 1142.2L942.5 1147.3L945.0 1166.6L947.6 1167.0L951.0 1135.8L953.7 1134.9L956.4 1148.2L959.2 1162.5L961.9 1172.7L964.6 1174.7L967.1 1160.5L969.7 1150.4L972.4 1150.3L975.0 1157.0L977.7 1163.6L980.4 1172.6L983.1 1179.6L985.7 1182.1L988.4 1185.8L991.2 1179.2L993.9 1168.6L996.7 1152.4L999.5 1143.2L1002.0 1165.0L1004.6 1184.5L1007.7 1155.1L1011.9 1184.0L1014.7 1175.1L1017.4 1161.9L1020.2 1143.4L1023.0 1142.5L1025.9 1147.3L1028.9 1163.2L1031.9 1180.8L1034.9 1180.8L1037.4 1153.6L1040.4 1157.6L1043.4 1169.7L1046.3 1184.4L1049.3 1189.5L1051.9 1179.9L1054.4 1167.0L1057.0 1172.0L1059.5 1187.3L1062.1 1193.2L1064.6 1199.8L1067.6 1192.1L1070.6 1180.2L1073.6 1161.1L1076.5 1155.3L1081.3 1190.9L1084.2 1185.3L1087.2 1159.3L1090.1 1144.8L1093.1 1141.9L1096.1 1133.2L1099.1 1125.5L1102.0 1124.0L1105.3 1131.9L1108.6 1188.4L1111.9 1202.1L1114.5 1196.8L1117.2 1164.2L1119.8 1144.9L1122.5 1130.5L1125.0 1135.1L1127.6 1147.5L1130.1 1150.9L1133.1 1138.4L1136.1 1125.3L1140.3 1141.9L1142.9 1140.8L1145.4 1131.7L1148.0 1127.2L1150.5 1126.9L1153.6 1138.2L1156.7 1161.3L1159.9 1167.4L1162.7 1163.3L1165.5 1160.4L1168.4 1139.3L1171.2 1115.0L1174.0 1109.9L1176.9 1100.1L1179.8 1114.8L1182.8 1138.1L1186.2 1110.5L1188.8 1112.9L1191.3 1146.8L1193.9 1178.9L1196.4 1191.2L1199.5 1183.7L1202.7 1132.2L1205.8 1125.3L1208.3 1129.8L1210.9 1135.2L1213.4 1153.7L1216.0 1158.2L1218.5 1168.4L1221.1 1175.3L1223.6 1175.1L1226.2 1167.2L1228.7 1158.4L1231.3 1158.8L1233.8 1154.3L1236.8 1161.6L1239.8 1170.5L1242.8 1158.5L1245.8 1147.5L1248.5 1150.0L1251.2 1158.2L1253.9 1170.9L1256.6 1187.4L1259.4 1189.6L1262.3 1178.8L1265.3 1167.7L1269.6 1200.1L1272.3 1201.5L1275.0 1182.4L1277.7 1145.0L1280.4 1125.1L1283.2 1118.2L1285.9 1127.1L1288.7 1140.9L1291.5 1155.1L1294.2 1163.1L1297.2 1158.5L1300.2 1142.9L1303.1 1123.7L1306.1 1116.4L1309.1 1133.5L1312.1 1167.7L1315.1 1185.9L1318.0 1206.1L1321.0 1205.4L1324.0 1168.3L1327.0 1151.1L1329.9 1137.7L1332.6 1142.2L1335.3 1143.8L1338.0 1160.9L1340.7 1177.1L1343.4 1185.5L1346.1 1186.6L1349.5 1173.7L1352.9 1161.5L1355.9 1160.7L1358.8 1177.7L1361.8 1207.3L1364.8 1209.5L1367.9 1205.8L1371.0 1173.5L1374.1 1166.4L1377.0 1169.8L1379.8 1178.0L1382.7 1184.7L1385.4 1183.0L1388.2 1158.4L1390.9 1136.5L1393.7 1132.4L1396.6 1147.7L1399.5 1161.6L1402.4 1189.3L1405.3 1201.6L1407.9 1173.6L1410.4 1145.7L1413.2 1145.1L1415.9 1160.5L1418.7 1167.8L1421.5 1175.0L1424.0 1153.7L1426.8 1159.1L1429.5 1166.2L1432.3 1179.5L1435.1 1180.3L1438.5 1149.4L1441.4 1165.2L1444.4 1176.5L1447.3 1174.1L1450.1 1169.4L1452.9 1166.0L1455.5 1170.5L1458.0 1179.6L1460.6 1192.9L1463.1 1196.3L1467.4 1172.1L1470.4 1177.7L1473.3 1186.2L1475.9 1173.0L1478.4 1158.7L1481.0 1123.0L1483.5 1125.2L1486.1 1138.2L1488.6 1152.9L1491.2 1148.2L1493.7 1143.5L1496.3 1134.4L1498.8 1131.2L1501.4 1125.5L1504.2 1135.9L1507.1 1158.1L1509.9 1172.5L1512.9 1173.8L1515.8 1147.1L1518.8 1136.7L1521.8 1129.8L1524.4 1154.0L1526.9 1150.8L1529.5 1142.9L1532.0 1140.9L1534.6 1141.8L1537.2 1143.2L1539.8 1166.2L1542.5 1200.4L1545.1 1201.4L1547.8 1195.7L1550.4 1185.5L1553.1 1158.6L1555.7 1136.4L1558.4 1133.8L1560.9 1166.0L1563.5 1185.8L1566.2 1173.5L1569.0 1152.2L1571.8 1127.0L1574.5 1126.4L1577.3 1131.7L1580.1 1155.5L1582.8 1179.7L1585.6 1184.4L1589.0 1115.2L1591.5 1127.7L1594.1 1139.7L1596.6 1161.9L1599.2 1176.7L1601.7 1178.8L1604.3 1178.9L1606.8 1163.0L1609.4 1147.0L1611.9 1129.1L1614.5 1129.0L1617.0 1138.5L1619.6 1154.4L1622.1 1178.7L1624.7 1188.7L1627.5 1189.3L1630.2 1192.9L1633.0 1201.8L1635.7 1203.1L1639.1 1171.7L1642.1 1179.0L1645.1 1189.8L1647.7 1190.9L1650.2 1189.1L1652.8 1181.5L1655.3 1180.5L1657.9 1177.2L1660.4 1154.7L1663.0 1135.0L1665.5 1129.0L1668.1 1128.3L1670.6 1126.0L1673.2 1124.2L1675.7 1122.1L1678.3 1119.9L1680.8 1120.8L1683.4 1120.7L1685.9 1127.6L1688.5 1137.5L1691.0 1150.4L1693.6 1154.8L1696.1 1154.1L1698.7 1159.3L1701.2 1163.5L1703.8 1181.9L1706.3 1188.1L1708.9 1187.6L1711.7 1176.2L1714.5 1155.5L1717.4 1146.5L1719.9 1150.7L1722.5 1163.8L1725.0 1175.0L1727.6 1175.1L1731.0 1152.1L1733.8 1156.0L1736.7 1164.2L1739.5 1166.7L1742.5 1151.3L1745.4 1142.5L1748.0 1145.5L1750.5 1166.4L1753.1 1190.8L1755.6 1195.0L1758.6 1188.3L1761.6 1177.9L1764.6 1154.8L1767.6 1153.6L1771.0 1161.9L1774.4 1170.1L1777.2 1166.5L1780.0 1150.9L1782.9 1143.1L1785.7 1144.8L1788.5 1154.8L1791.3 1172.6L1794.2 1187.8L1797.0 1189.6L1800.0 1169.9L1803.0 1140.6L1805.5 1155.9L1808.1 1166.3L1812.3 1139.5L1816.6 1186.1L1819.5 1184.5L1822.3 1175.1L1825.2 1163.8L1828.1 1146.6L1831.0 1144.5L1833.7 1149.5L1836.5 1150.8L1839.2 1161.6L1841.9 1168.3L1844.6 1170.2L1847.2 1161.4L1849.7 1155.6L1853.1 1172.6L1856.5 1197.0L1859.5 1181.9L1862.5 1141.5L1865.5 1122.5L1868.4 1107.5L1872.7 1136.2L1875.2 1135.0L1877.8 1132.4L1880.3 1131.8L1883.3 1140.8L1886.3 1155.9L1889.3 1194.8L1892.2 1196.9L1895.1 1195.8L1897.9 1187.9L1900.7 1181.5L1903.6 1161.5L1906.4 1155.3L1909.3 1151.8L1912.2 1151.5L1915.2 1152.5L1918.0 1152.4L1920.7 1172.5L1923.5 1186.0L1926.3 1185.6L1928.8 1185.1L1931.4 1179.6L1933.9 1172.9L1936.5 1154.0L1939.0 1144.1L1941.6 1143.7L1944.1 1138.2L1946.9 1145.0L1949.6 1166.2L1952.4 1182.2L1955.2 1186.9L1957.9 1186.8L1960.7 1188.5L1963.5 1187.5L1966.2 1187.4L1968.8 1180.9L1971.3 1154.6L1973.9 1126.1L1976.4 1103.8L1979.0 1095.8L1981.8 1107.0L1984.6 1133.6L1987.5 1144.7L1990.9 1141.6L1994.3 1136.2L1997.7 1144.3L2001.1 1151.6L2003.6 1150.8L2006.2 1147.3L2008.7 1145.7L2011.3 1144.0L2014.1 1135.5L2016.8 1128.5L2019.6 1111.2L2022.3 1108.6L2025.3 1109.0L2028.3 1151.2L2031.3 1177.7L2034.3 1189.7L2036.8 1176.3L2039.4 1171.0L2041.9 1140.0L2044.5 1117.1L2047.0 1109.1L2049.6 1098.7L2052.1 1096.7L2054.7 1100.0L2057.2 1136.7L2059.8 1164.7L2062.3 1173.6L2064.9 1191.8L2067.4 1190.3L2070.1 1187.4L2072.9 1180.3L2075.6 1173.1L2078.3 1172.0L2081.0 1167.5L2084.0 1181.6L2087.0 1198.1L2090.1 1182.8L2093.2 1155.2L2096.3 1143.8L2099.4 1139.7L2102.6 1130.0L2105.7 1125.2L2109.1 1145.2L2112.5 1163.6L2115.2 1157.1L2118.0 1148.1L2120.8 1135.5L2123.5 1133.3L2126.7 1147.9L2129.8 1178.7L2132.9 1185.1L2135.7 1185.1L2138.5 1175.5L2141.3 1161.1L2144.1 1149.5L2146.9 1138.9L2149.7 1134.3L2152.4 1132.2L2155.3 1132.2L2158.1 1132.1L2161.0 1131.0L2164.1 1138.4L2167.2 1181.4L2170.3 1196.9L2172.9 1183.0L2175.4 1136.5L2178.0 1118.7L2181.3 1118.7L2184.6 1119.4L2187.9 1119.0L2190.4 1130.1L2193.0 1160.1L2195.5 1179.6L2198.1 1170.2L2200.6 1162.6L2203.4 1160.7L2206.3 1156.6L2209.1 1156.2L2211.7 1177.7L2214.2 1193.7L2217.2 1194.1L2220.2 1164.3L2223.1 1143.0L2226.1 1139.2L2229.0 1151.4L2231.8 1169.9L2234.6 1183.3L2237.7 1178.0L2240.9 1152.0L2244.0 1148.0L2247.0 1157.2L2249.9 1161.5L2253.3 1139.6L2256.7 1121.5L2260.1 1132.1L2263.5 1142.9L2266.1 1138.1L2268.6 1125.8L2271.2 1109.6L2273.7 1100.7L2276.3 1124.0L2278.8 1154.5L2281.4 1164.0L2283.9 1178.6L2286.5 1182.0L2289.9 1143.6L2293.3 1118.7L2296.3 1132.0L2299.3 1176.1L2302.2 1210.1L2305.2 1213.7L2307.8 1201.0L2310.3 1180.1L2312.9 1168.3L2315.6 1168.8L2318.4 1185.6L2321.1 1206.6L2323.9 1207.7L2326.5 1195.8L2329.0 1177.6L2331.6 1157.1L2334.1 1140.1L2336.7 1141.4L2339.2 1146.3L2341.8 1153.1L2344.3 1155.8L2348.6 1130.8L2351.7 1143.2L2354.8 1174.9L2357.9 1186.8L2360.8 1188.8L2363.7 1177.5L2366.6 1159.1L2369.5 1140.5L2372.4 1140.7L2374.9 1149.7L2377.5 1163.7L2380.0 1152.7L2382.6 1126.1L2385.1 1119.3L2388.3 1128.5L2391.4 1154.2L2394.5 1161.8L2397.0 1162.5L2399.6 1164.5L2402.1 1168.5L2404.7 1170.1L2408.9 1139.7L2411.8 1142.7L2414.6 1148.4L2417.5 1169.1L2420.3 1182.4L2423.1 1188.7L2426.0 1187.5L2428.9 1176.5L2431.9 1154.0L2434.9 1140.4L2437.9 1134.9L2441.0 1140.4L2444.1 1162.5L2447.2 1168.8L2450.1 1164.0L2453.0 1160.7L2455.9 1139.6L2458.8 1114.2L2461.7 1111.2L2464.6 1120.9L2467.4 1139.5L2470.3 1160.9L2473.2 1179.4L2476.1 1179.2L2479.0 1171.2L2481.8 1160.4L2484.6 1157.4L2488.9 1184.1L2491.6 1177.1L2494.3 1154.1L2497.0 1135.1L2499.7 1122.1L2502.6 1122.0L2505.4 1119.3L2508.2 1114.2L2511.0 1111.5L2513.8 1107.7L2516.3 1122.8L2518.9 1138.5L2521.6 1140.0L2524.4 1162.9L2527.1 1175.5L2529.9 1196.2L2532.7 1201.7L2535.4 1194.7L2538.2 1175.3L2541.0 1141.3L2543.7 1135.9L2548.2 1162.2L2551.1 1156.6L2554.0 1140.9L2556.8 1125.5L2559.7 1120.6L2562.2 1155.9L2565.4 1143.3L2568.6 1127.8L2571.2 1151.2L2573.7 1167.8L2577.2 1153.2L2580.7 1142.2L2583.5 1149.6L2586.3 1173.5L2589.0 1179.3L2591.6 1174.6L2594.1 1166.3" stroke="#4477aa" stroke-opacity="0.8"/>
</g>
<g fill="#000"><text transform="translate(190.38 1572.40) scale(0.6252 1)" font-size="85.76">0</text><text transform="translate(158.50 1396.66) scale(0.6476 1)" font-size="85.76">10</text><text transform="translate(160.13 1220.93) scale(0.6299 1)" font-size="85.76">20</text><text transform="translate(160.77 1045.19) scale(0.6229 1)" font-size="85.76">30</text><text transform="translate(161.20 869.45) scale(0.6183 1)" font-size="85.76">40</text><text transform="translate(160.34 693.71) scale(0.6276 1)" font-size="85.76">50</text><text transform="translate(160.02 517.98) scale(0.6311 1)" font-size="85.76">60</text><text transform="translate(159.66 342.24) scale(0.6350 1)" font-size="85.76">70</text><text transform="translate(160.29 166.50) scale(0.6282 1)" font-size="85.76">80</text><text transform="translate(222.45 1627.80) scale(0.6326 1)" font-size="85.76">0</text><text transform="translate(646.64 1627.80) scale(0.6445 1)" font-size="85.76">1000</text><text transform="translate(1119.45 1627.80) scale(0.6360 1)" font-size="85.76">2000</text><text transform="translate(1591.32 1627.80) scale(0.6325 1)" font-size="85.76">3000</text><text transform="translate(2062.96 1627.80) scale(0.6302 1)" font-size="85.76">4000</text><text transform="translate(2533.33 1627.80) scale(0.6348 1)" font-size="85.76">5000</text><text transform="translate(1015.55 120.10) scale(0.6086 1)" font-size="109.74">Total number of contacts</text><text transform="translate(1265.65 1736.00) scale(0.6096 1)" font-size="109.01">Time (ns)</text><g transform="rotate(-90)"><text transform="translate(-1017.43 118.00) scale(0.5995 1)" font-size="110.03"># Contacts</text></g></g>
<rect x="2021" y="174" width="542.5" height="266.3" rx="11" ry="11" fill="#fff" fill-opacity="0.8" stroke="#ccc" stroke-opacity="0.8" stroke-width="3.8"/>
<g><rect x="2036" y="211.0" width="134" height="16.8" fill="#4477aa"/><text transform="translate(2206.65 238.90) scale(0.6196 1)" font-size="61.48">Peptide–Water</text><rect x="2036" y="294.0" width="134" height="16.8" fill="#228833"/><text transform="translate(2206.73 321.90) scale(0.6010 1)" font-size="61.48">Peptide–Lipid HGs</text><rect x="2036" y="376.9" width="134" height="16.8" fill="#aa3377"/><text transform="translate(2206.67 404.80) scale(0.6156 1)" font-size="61.48">Peptide–Lipid tails</text></g>
</svg></body></html>
